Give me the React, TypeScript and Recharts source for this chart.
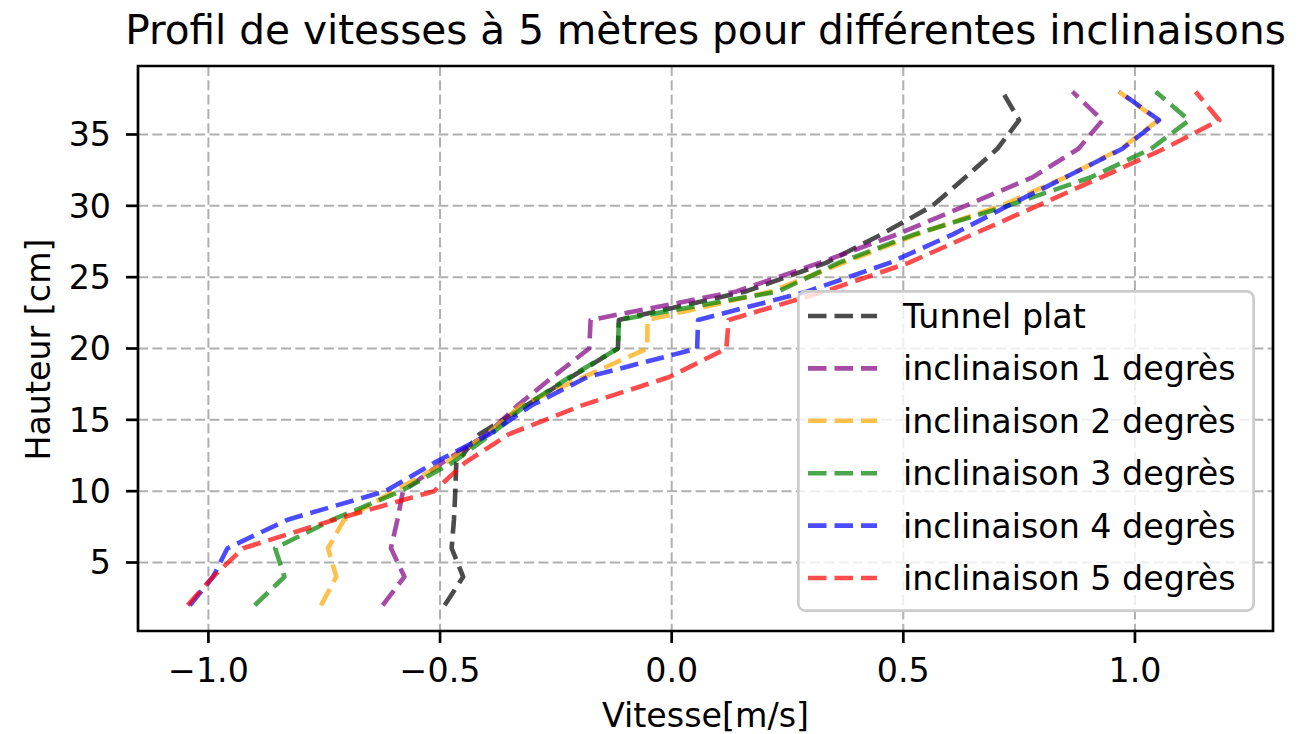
import React from 'react';
import { ScatterChart, Scatter, XAxis, YAxis, CartesianGrid, ReferenceArea, Legend } from 'recharts';

// Heights (cm) at which the velocity was measured
const HEIGHTS = [2, 4, 6, 8, 10, 12, 14, 16, 18, 20, 22, 24, 26, 28, 30, 32, 34, 36, 38];

// Velocities (m/s) for each configuration
const TUNNEL_PLAT = [-0.49, -0.45, -0.475, -0.47, -0.467, -0.465, -0.415, -0.314, -0.217, -0.116, -0.114, 0.16, 0.333, 0.453, 0.563, 0.634, 0.703, 0.75, 0.714];
const INCL_1 = [-0.624, -0.577, -0.606, -0.592, -0.58, -0.495, -0.398, -0.333, -0.257, -0.178, -0.175, 0.14, 0.319, 0.487, 0.634, 0.779, 0.878, 0.93, 0.865];
const INCL_2 = [-0.757, -0.724, -0.742, -0.707, -0.6, -0.487, -0.398, -0.325, -0.19, -0.053, -0.052, 0.215, 0.37, 0.53, 0.71, 0.85, 0.97, 1.05, 0.965];
const INCL_3 = [-0.9, -0.836, -0.856, -0.732, -0.585, -0.473, -0.389, -0.316, -0.22, -0.116, -0.114, 0.23, 0.36, 0.524, 0.725, 0.905, 1.035, 1.117, 1.045];
const INCL_4 = [-1.04, -0.99, -0.959, -0.829, -0.618, -0.512, -0.393, -0.303, -0.182, 0.055, 0.057, 0.293, 0.47, 0.607, 0.726, 0.85, 0.973, 1.052, 0.966];
const INCL_5 = [-1.045, -0.99, -0.925, -0.728, -0.513, -0.446, -0.351, -0.195, -0.005, 0.118, 0.123, 0.33, 0.511, 0.65, 0.789, 0.927, 1.063, 1.182, 1.131];

const SERIES_NAMES = [
  'Tunnel plat',
  'inclinaison 1 degrès',
  'inclinaison 2 degrès',
  'inclinaison 3 degrès',
  'inclinaison 4 degrès',
  'inclinaison 5 degrès',
];
const SERIES_VALUES = [TUNNEL_PLAT, INCL_1, INCL_2, INCL_3, INCL_4, INCL_5];
const SERIES_COLORS = ['black', 'purple', 'orange', 'green', 'blue', 'red'];

const X_TICKS = [-1, -0.5, 0, 0.5, 1];
const Y_TICKS = [5, 10, 15, 20, 25, 30, 35];
const X_DOMAIN: [number, number] = [-1.152, 1.298];
const Y_DOMAIN: [number, number] = [0.2, 39.8];

const TITLE = 'Profil de vitesses à 5 mètres pour différentes inclinaisons';
const X_LABEL = 'Vitesse[m/s]';
const Y_LABEL = 'Hauteur [cm]';

const FONT = '"DejaVu Sans", sans-serif';
const DASH = '18.5 8';
const LINE_W = 4.6;
const ALPHA = 0.7;

const seriesData = SERIES_VALUES.map((vals) => HEIGHTS.map((h, i) => ({ h, v: vals[i] })));

const EmptyShape = () => <g />;

const fmtX = (v: number) => (v < 0 ? '\u2212' : '') + Math.abs(v).toFixed(1);

const LegendBox = () => (
  <svg width={458} height={322} style={{ display: 'block' }}>
    <rect x={1.35} y={1.35} width={455.3} height={319.3} rx={7} ry={7}
      fill="rgba(255,255,255,0.8)" stroke="#cccccc" strokeWidth={2.7} />
    {SERIES_NAMES.map((name, i) => {
      const cy = 26 + i * 52.4;
      return (
        <g key={name}>
          <line x1={11} x2={80} y1={cy} y2={cy} stroke={SERIES_COLORS[i]} strokeOpacity={ALPHA}
            strokeWidth={LINE_W} strokeDasharray={DASH} />
          <text x={106} y={cy + 12} fontFamily={FONT} fontSize={33.3} fill="#000">{name}</text>
        </g>
      );
    })}
  </svg>
);

export default function App() {
  return (
    <div style={{ position: 'relative', width: 1306, height: 726, fontFamily: FONT }}>
      <ScatterChart width={1306} height={726} margin={{ top: 58, right: 41, bottom: 43, left: 30 }}>
        <CartesianGrid stroke="#b0b0b0" strokeWidth={2} strokeDasharray="10 4.3" />
        <XAxis
          type="number"
          dataKey="v"
          domain={X_DOMAIN}
          allowDataOverflow
          ticks={X_TICKS}
          tickFormatter={fmtX}
          height={60}
          axisLine={false}
          tickSize={12}
          tickMargin={15}
          tickLine={{ stroke: '#000', strokeWidth: 2.7 }}
          tick={{ fill: '#000', fontSize: 33.3, fontFamily: FONT }}
          interval={0}
        />
        <YAxis
          type="number"
          dataKey="h"
          domain={Y_DOMAIN}
          allowDataOverflow
          ticks={Y_TICKS}
          width={100}
          axisLine={false}
          tickSize={12}
          tickMargin={15}
          tickLine={{ stroke: '#000', strokeWidth: 2.7 }}
          tick={{ fill: '#000', fontSize: 33.3, fontFamily: FONT }}
          interval={0}
        />
        {seriesData.map((data, i) => (
          <Scatter
            key={SERIES_NAMES[i]}
            name={SERIES_NAMES[i]}
            data={data}
            fill={SERIES_COLORS[i]}
            shape={EmptyShape}
            line={{
              stroke: SERIES_COLORS[i],
              strokeOpacity: ALPHA,
              strokeWidth: LINE_W,
              strokeDasharray: DASH,
              strokeLinejoin: 'round',
            }}
            lineType="joint"
            isAnimationActive={false}
          />
        ))}
        <ReferenceArea
          x1={X_DOMAIN[0]}
          x2={X_DOMAIN[1]}
          y1={Y_DOMAIN[0]}
          y2={Y_DOMAIN[1]}
          fill="none"
          fillOpacity={0}
          stroke="#000"
          strokeWidth={2.7}
          ifOverflow="visible"
        />
        <Legend
          layout="horizontal"
          verticalAlign="middle"
          align="center"
          width={458}
          height={322}
          wrapperStyle={{ position: 'absolute', left: 789, top: 282, width: 458, height: 322 }}
          content={LegendBox}
        />
      </ScatterChart>
      <svg width={1314} height={734} style={{ position: 'absolute', left: -8, top: -8, pointerEvents: 'none', overflow: 'visible' }}>
        <text x={705.5} y={44} textAnchor="middle" fontFamily={FONT} fontSize={40.6} fill="#000">{TITLE}</text>
        <text x={705.5} y={727} textAnchor="middle" fontFamily={FONT} fontSize={33.3} fill="#000">{X_LABEL}</text>
        <text x={50} y={349.5} textAnchor="middle" fontFamily={FONT} fontSize={33.3} fill="#000"
          transform="rotate(-90 50 349.5)">{Y_LABEL}</text>
      </svg>
    </div>
  );
}
